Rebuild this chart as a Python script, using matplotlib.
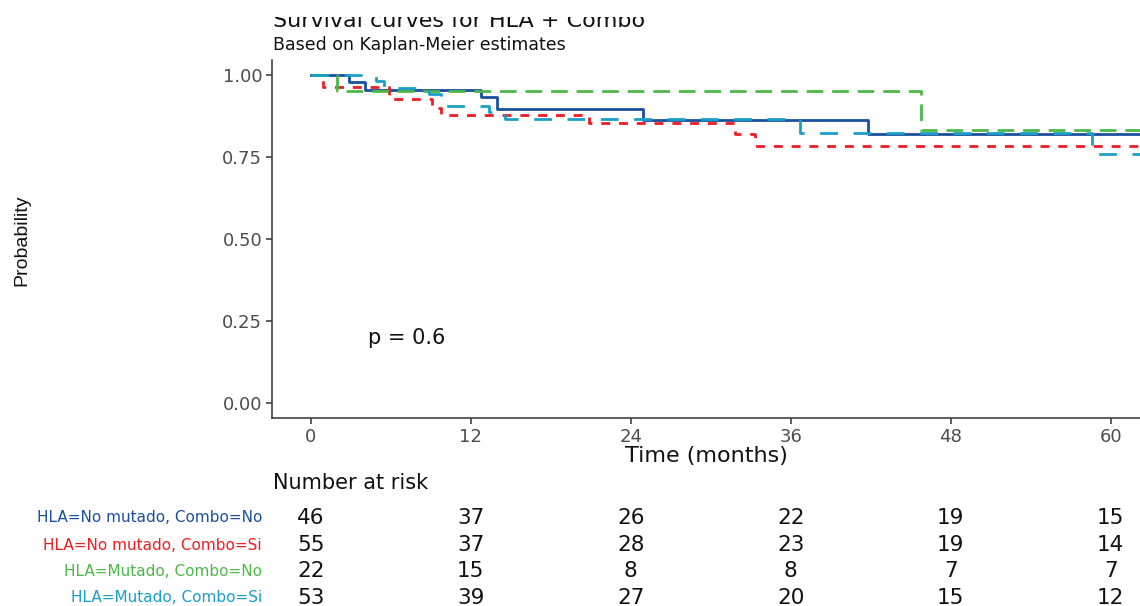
import matplotlib
matplotlib.use("Agg")
import matplotlib.pyplot as plt
from matplotlib.transforms import Bbox, blended_transform_factory

W, H = 1140, 606

groups = ["HLA=No mutado, Combo=No", "HLA=No mutado, Combo=Si",
          "HLA=Mutado, Combo=No", "HLA=Mutado, Combo=Si"]
colors = ["#1B4F9C", "#EE1C25", "#4CB848", "#1C9FC6"]

# Kaplan-Meier step curves (time in months, survival probability)
t_no_no = [0, 2.9, 4.05, 12.8, 14.0, 24.9, 41.8, 64]
s_no_no = [1.0, 0.978, 0.955, 0.934, 0.898, 0.863, 0.820, 0.820]
t_no_si = [0, 0.9, 5.9, 9.1, 9.8, 20.9, 31.8, 33.3, 64]
s_no_si = [1.0, 0.964, 0.927, 0.900, 0.877, 0.854, 0.820, 0.784, 0.784]
t_mu_no = [0, 1.95, 45.8, 64]
s_mu_no = [1.0, 0.950, 0.832, 0.832]
t_mu_si = [0, 4.9, 5.5, 8.9, 9.8, 13.4, 14.6, 36.7, 58.6, 64]
s_mu_si = [1.0, 0.981, 0.962, 0.943, 0.906, 0.887, 0.866, 0.822, 0.758, 0.758]

risk_times = [0, 12, 24, 36, 48, 60]
risk_no_no = [46, 37, 26, 22, 19, 15]
risk_no_si = [55, 37, 28, 23, 19, 14]
risk_mu_no = [22, 15, 8, 8, 7, 7]
risk_mu_si = [53, 39, 27, 20, 15, 12]

curves = [(t_no_no, s_no_no), (t_no_si, s_no_si), (t_mu_no, s_mu_no), (t_mu_si, s_mu_si)]
risks = [risk_no_no, risk_no_si, risk_mu_no, risk_mu_si]
dashes = [None, (3.2, 3.2), (6.0, 3.2), (6.4, 5.6)]

plt.rcParams['font.family'] = ['DejaVu Sans']


def fx(px):
    return px / W


def fy(py):
    return 1 - py / H


fig = plt.figure(figsize=(W / 100, H / 100), dpi=100)
ax = fig.add_axes([fx(272), fy(418), fx(W - 272), (418 - 60) / H])

for (t, s), c, d in zip(curves, colors, dashes):
    line, = ax.plot(t, s, drawstyle='steps-post', color=c, lw=2.0)
    if d is not None:
        line.set_dashes(d)

ax.set_xlim(-2.9, 62.2)
ax.set_ylim(-0.046, 1.046)
ax.set_xticks(risk_times)
ax.set_yticks([0, 0.25, 0.5, 0.75, 1.0])
ax.set_yticklabels(["0.00", "0.25", "0.50", "0.75", "1.00"])
for side in ["top", "right"]:
    ax.spines[side].set_visible(False)
for side in ["left", "bottom"]:
    ax.spines[side].set_color("#333333")
    ax.spines[side].set_linewidth(1.1)
ax.tick_params(colors="#333333", width=1.1, length=4, labelsize=13,
               labelcolor="#4D4D4D", pad=3)

ax.set_xlabel("Time (months)", fontsize=16, color="#111111", labelpad=0)
fig.text(fx(22), fy(240), "Probability", rotation=90, ha='center', va='center',
         fontsize=14, family=['Liberation Sans', 'DejaVu Sans'], color="#111111")

ax.text(4.3, 0.198, "p = 0.6", fontsize=15, va='center', ha='left', color="#111111")

# title (top part cut off like the reference)
title = fig.text(fx(273), fy(27), "Survival curves for HLA + Combo", fontsize=16,
                 va='baseline', ha='left', color="#111111")
title.set_clip_box(Bbox([[0, 0], [W, H - 17]]))
title.set_clip_on(True)
fig.text(fx(273), fy(50), "Based on Kaplan-Meier estimates", fontsize=12.5,
         va='baseline', ha='left', color="#111111")

# number at risk table
fig.text(fx(273), fy(483), "Number at risk", fontsize=15, va='center', ha='left',
         color="#111111")
tr = blended_transform_factory(ax.transData, fig.transFigure)
row_y = [518, 545, 571, 598]
for g, c, r, y in zip(groups, colors, risks, row_y):
    fig.text(fx(262), fy(y), g, fontsize=11, color=c, ha='right', va='center')
    for t, n in zip(risk_times, r):
        ax.text(t, fy(y), str(n), transform=tr, fontsize=15.5, ha='center',
                va='center', color="#111111", clip_on=False)

fig.savefig("out.png", dpi=100)
